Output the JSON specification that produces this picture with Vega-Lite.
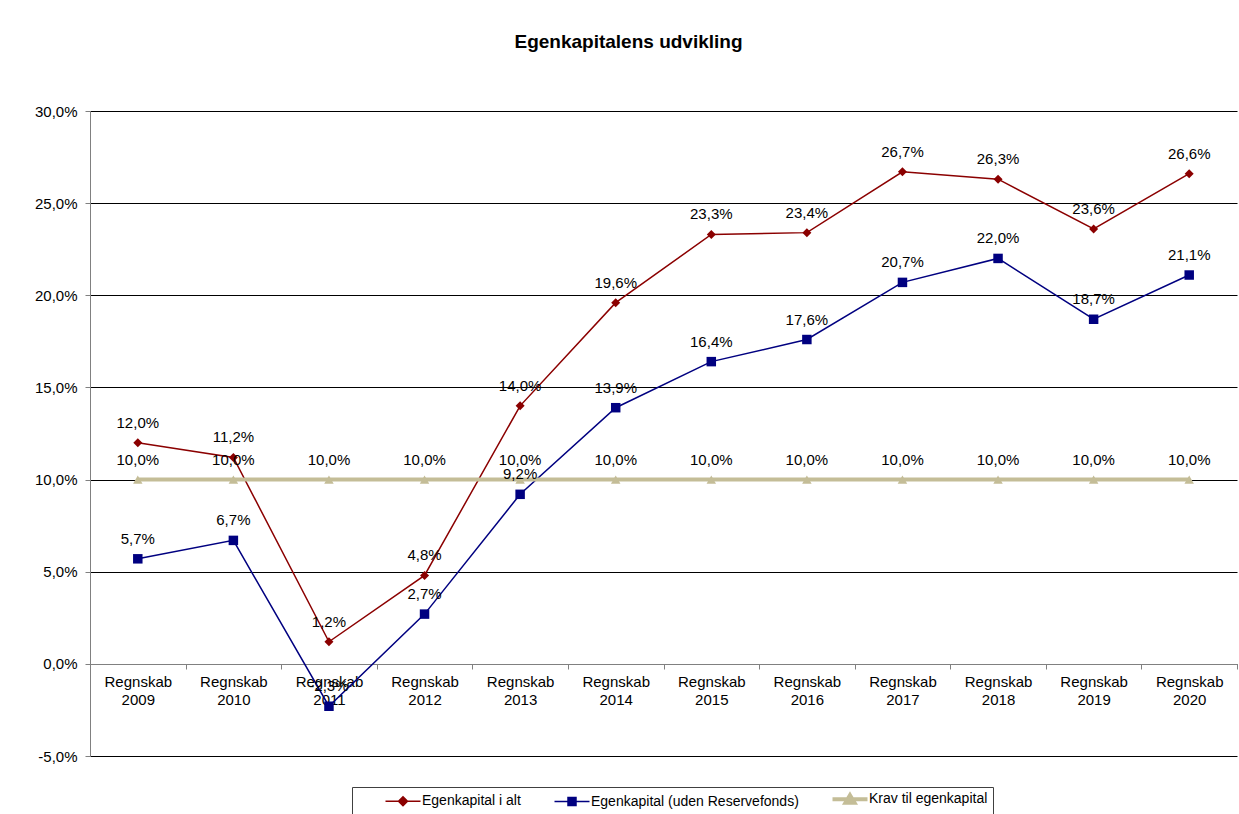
{
  "$schema": "https://vega.github.io/schema/vega-lite/v6.json",
  "width": 1147,
  "height": 645,
  "autosize": {"type": "none"},
  "padding": {"left": 90, "top": 111, "right": 2, "bottom": 58},
  "background": "white",
  "config": {
    "locale": {"number": {"decimal": ",", "thousands": ".", "grouping": [3], "currency": ["", " kr."], "minus": "-"}},
    "font": "Liberation Sans",
    "view": {"stroke": null}
  },
  "title": {
    "text": "Egenkapitalens udvikling",
    "fontSize": 19,
    "fontWeight": "bold",
    "color": "#000",
    "anchor": "middle",
    "dx": -35,
    "offset": 37,
    "baseline": "alphabetic"
  },
  "data": {
    "values": [
      {"year": "Regnskab 2009", "series": "Egenkapital i alt", "value": 0.120},
      {"year": "Regnskab 2010", "series": "Egenkapital i alt", "value": 0.112},
      {"year": "Regnskab 2011", "series": "Egenkapital i alt", "value": 0.012},
      {"year": "Regnskab 2012", "series": "Egenkapital i alt", "value": 0.048},
      {"year": "Regnskab 2013", "series": "Egenkapital i alt", "value": 0.140},
      {"year": "Regnskab 2014", "series": "Egenkapital i alt", "value": 0.196},
      {"year": "Regnskab 2015", "series": "Egenkapital i alt", "value": 0.233},
      {"year": "Regnskab 2016", "series": "Egenkapital i alt", "value": 0.234},
      {"year": "Regnskab 2017", "series": "Egenkapital i alt", "value": 0.267},
      {"year": "Regnskab 2018", "series": "Egenkapital i alt", "value": 0.263},
      {"year": "Regnskab 2019", "series": "Egenkapital i alt", "value": 0.236},
      {"year": "Regnskab 2020", "series": "Egenkapital i alt", "value": 0.266},
      {"year": "Regnskab 2009", "series": "Egenkapital (uden Reservefonds)", "value": 0.057},
      {"year": "Regnskab 2010", "series": "Egenkapital (uden Reservefonds)", "value": 0.067},
      {"year": "Regnskab 2011", "series": "Egenkapital (uden Reservefonds)", "value": -0.023},
      {"year": "Regnskab 2012", "series": "Egenkapital (uden Reservefonds)", "value": 0.027},
      {"year": "Regnskab 2013", "series": "Egenkapital (uden Reservefonds)", "value": 0.092},
      {"year": "Regnskab 2014", "series": "Egenkapital (uden Reservefonds)", "value": 0.139},
      {"year": "Regnskab 2015", "series": "Egenkapital (uden Reservefonds)", "value": 0.164},
      {"year": "Regnskab 2016", "series": "Egenkapital (uden Reservefonds)", "value": 0.176},
      {"year": "Regnskab 2017", "series": "Egenkapital (uden Reservefonds)", "value": 0.207},
      {"year": "Regnskab 2018", "series": "Egenkapital (uden Reservefonds)", "value": 0.220},
      {"year": "Regnskab 2019", "series": "Egenkapital (uden Reservefonds)", "value": 0.187},
      {"year": "Regnskab 2020", "series": "Egenkapital (uden Reservefonds)", "value": 0.211},
      {"year": "Regnskab 2009", "series": "Krav til egenkapital", "value": 0.10},
      {"year": "Regnskab 2010", "series": "Krav til egenkapital", "value": 0.10},
      {"year": "Regnskab 2011", "series": "Krav til egenkapital", "value": 0.10},
      {"year": "Regnskab 2012", "series": "Krav til egenkapital", "value": 0.10},
      {"year": "Regnskab 2013", "series": "Krav til egenkapital", "value": 0.10},
      {"year": "Regnskab 2014", "series": "Krav til egenkapital", "value": 0.10},
      {"year": "Regnskab 2015", "series": "Krav til egenkapital", "value": 0.10},
      {"year": "Regnskab 2016", "series": "Krav til egenkapital", "value": 0.10},
      {"year": "Regnskab 2017", "series": "Krav til egenkapital", "value": 0.10},
      {"year": "Regnskab 2018", "series": "Krav til egenkapital", "value": 0.10},
      {"year": "Regnskab 2019", "series": "Krav til egenkapital", "value": 0.10},
      {"year": "Regnskab 2020", "series": "Krav til egenkapital", "value": 0.10}
    ]
  },
  "encoding": {
    "x": {
      "field": "year",
      "type": "nominal",
      "sort": null,
      "scale": {"type": "band", "paddingInner": 0, "paddingOuter": 0},
      "axis": {
        "title": null,
        "orient": "bottom",
        "offset": -92,
        "labelAngle": 0,
        "labelExpr": "split(datum.label, ' ')",
        "labelLineHeight": 18,
        "labelFontSize": 15,
        "labelColor": "#000",
        "labelPadding": 5,
        "labelBaseline": "top",
        "tickBand": "extent",
        "tickSize": 5,
        "tickColor": "#808080",
        "domainColor": "#808080",
        "grid": false
      }
    },
    "y": {
      "field": "value",
      "type": "quantitative",
      "scale": {"domain": [-0.05, 0.30], "nice": false, "zero": false},
      "axis": {
        "title": null,
        "values": [-0.05, 0, 0.05, 0.10, 0.15, 0.20, 0.25, 0.30],
        "format": ".1%",
        "labelFontSize": 15,
        "labelColor": "#000",
        "labelPadding": 8,
        "tickSize": 5,
        "tickColor": "#808080",
        "domainColor": "#808080",
        "grid": true,
        "gridColor": "#000",
        "gridOpacity": 1,
        "gridWidth": 1
      }
    },
    "color": {
      "field": "series",
      "type": "nominal",
      "scale": {
        "domain": ["Egenkapital i alt", "Egenkapital (uden Reservefonds)", "Krav til egenkapital"],
        "range": ["#8B0000", "#000080", "#C4BD97"]
      },
      "legend": null
    }
  },
  "layer": [
    {
      "transform": [{"filter": "datum.series !== 'Krav til egenkapital'"}],
      "mark": {"type": "line", "strokeWidth": 1.5},
      "encoding": {
        "color": {
          "field": "series",
          "type": "nominal",
          "legend": {
            "title": null,
            "orient": "none",
            "legendX": 262,
            "legendY": 676,
            "direction": "horizontal",
            "strokeColor": "#404040",
            "fillColor": "white",
            "padding": 5,
            "labelFontSize": 14,
            "labelColor": "#000",
            "labelLimit": 400,
            "labelOffset": 12,
            "symbolSize": 400,
            "symbolOffset": 39,
            "columnPadding": 5,
            "encode": {
              "symbols": {
                "update": {
                  "shape": {"signal": "datum.value === 'Egenkapital i alt' ? 'M-1.75,0H1.75M0,-0.45L0.45,0L0,0.45L-0.45,0Z' : datum.value === 'Egenkapital (uden Reservefonds)' ? 'M-1.75,0H1.75M-0.4,-0.4H0.4V0.4H-0.4Z' : 'M-1.75,0H1.75M0,-0.4L0.45,0.35H-0.45Z'"},
                  "fill": {"signal": "datum.value === 'Egenkapital i alt' ? '#8B0000' : datum.value === 'Egenkapital (uden Reservefonds)' ? '#000080' : '#C4BD97'"},
                  "stroke": {"signal": "datum.value === 'Egenkapital i alt' ? '#8B0000' : datum.value === 'Egenkapital (uden Reservefonds)' ? '#000080' : '#C4BD97'"},
                  "strokeWidth": {"signal": "datum.value === 'Krav til egenkapital' ? 4 : 1.5"},
                  "opacity": {"value": 1}
                }
              }
            }
          }
        }
      }
    },
    {
      "transform": [{"filter": "datum.series === 'Krav til egenkapital'"}],
      "mark": {"type": "line", "strokeWidth": 4}
    },
    {
      "transform": [{"filter": "datum.series === 'Egenkapital i alt'"}],
      "mark": {"type": "point", "filled": true, "opacity": 1, "shape": "diamond", "size": 81}
    },
    {
      "transform": [{"filter": "datum.series === 'Egenkapital (uden Reservefonds)'"}],
      "mark": {"type": "point", "filled": true, "opacity": 1, "shape": "square", "size": 90}
    },
    {
      "transform": [{"filter": "datum.series === 'Krav til egenkapital'"}],
      "mark": {"type": "point", "filled": true, "opacity": 1, "shape": "triangle-up", "size": 90}
    },
    {
      "mark": {"type": "text", "dy": -20, "baseline": "middle", "fontSize": 15, "color": "#000"},
      "encoding": {
        "text": {"field": "value", "type": "quantitative", "format": ".1%"},
        "color": {"value": "#000"}
      }
    }
  ]
}
